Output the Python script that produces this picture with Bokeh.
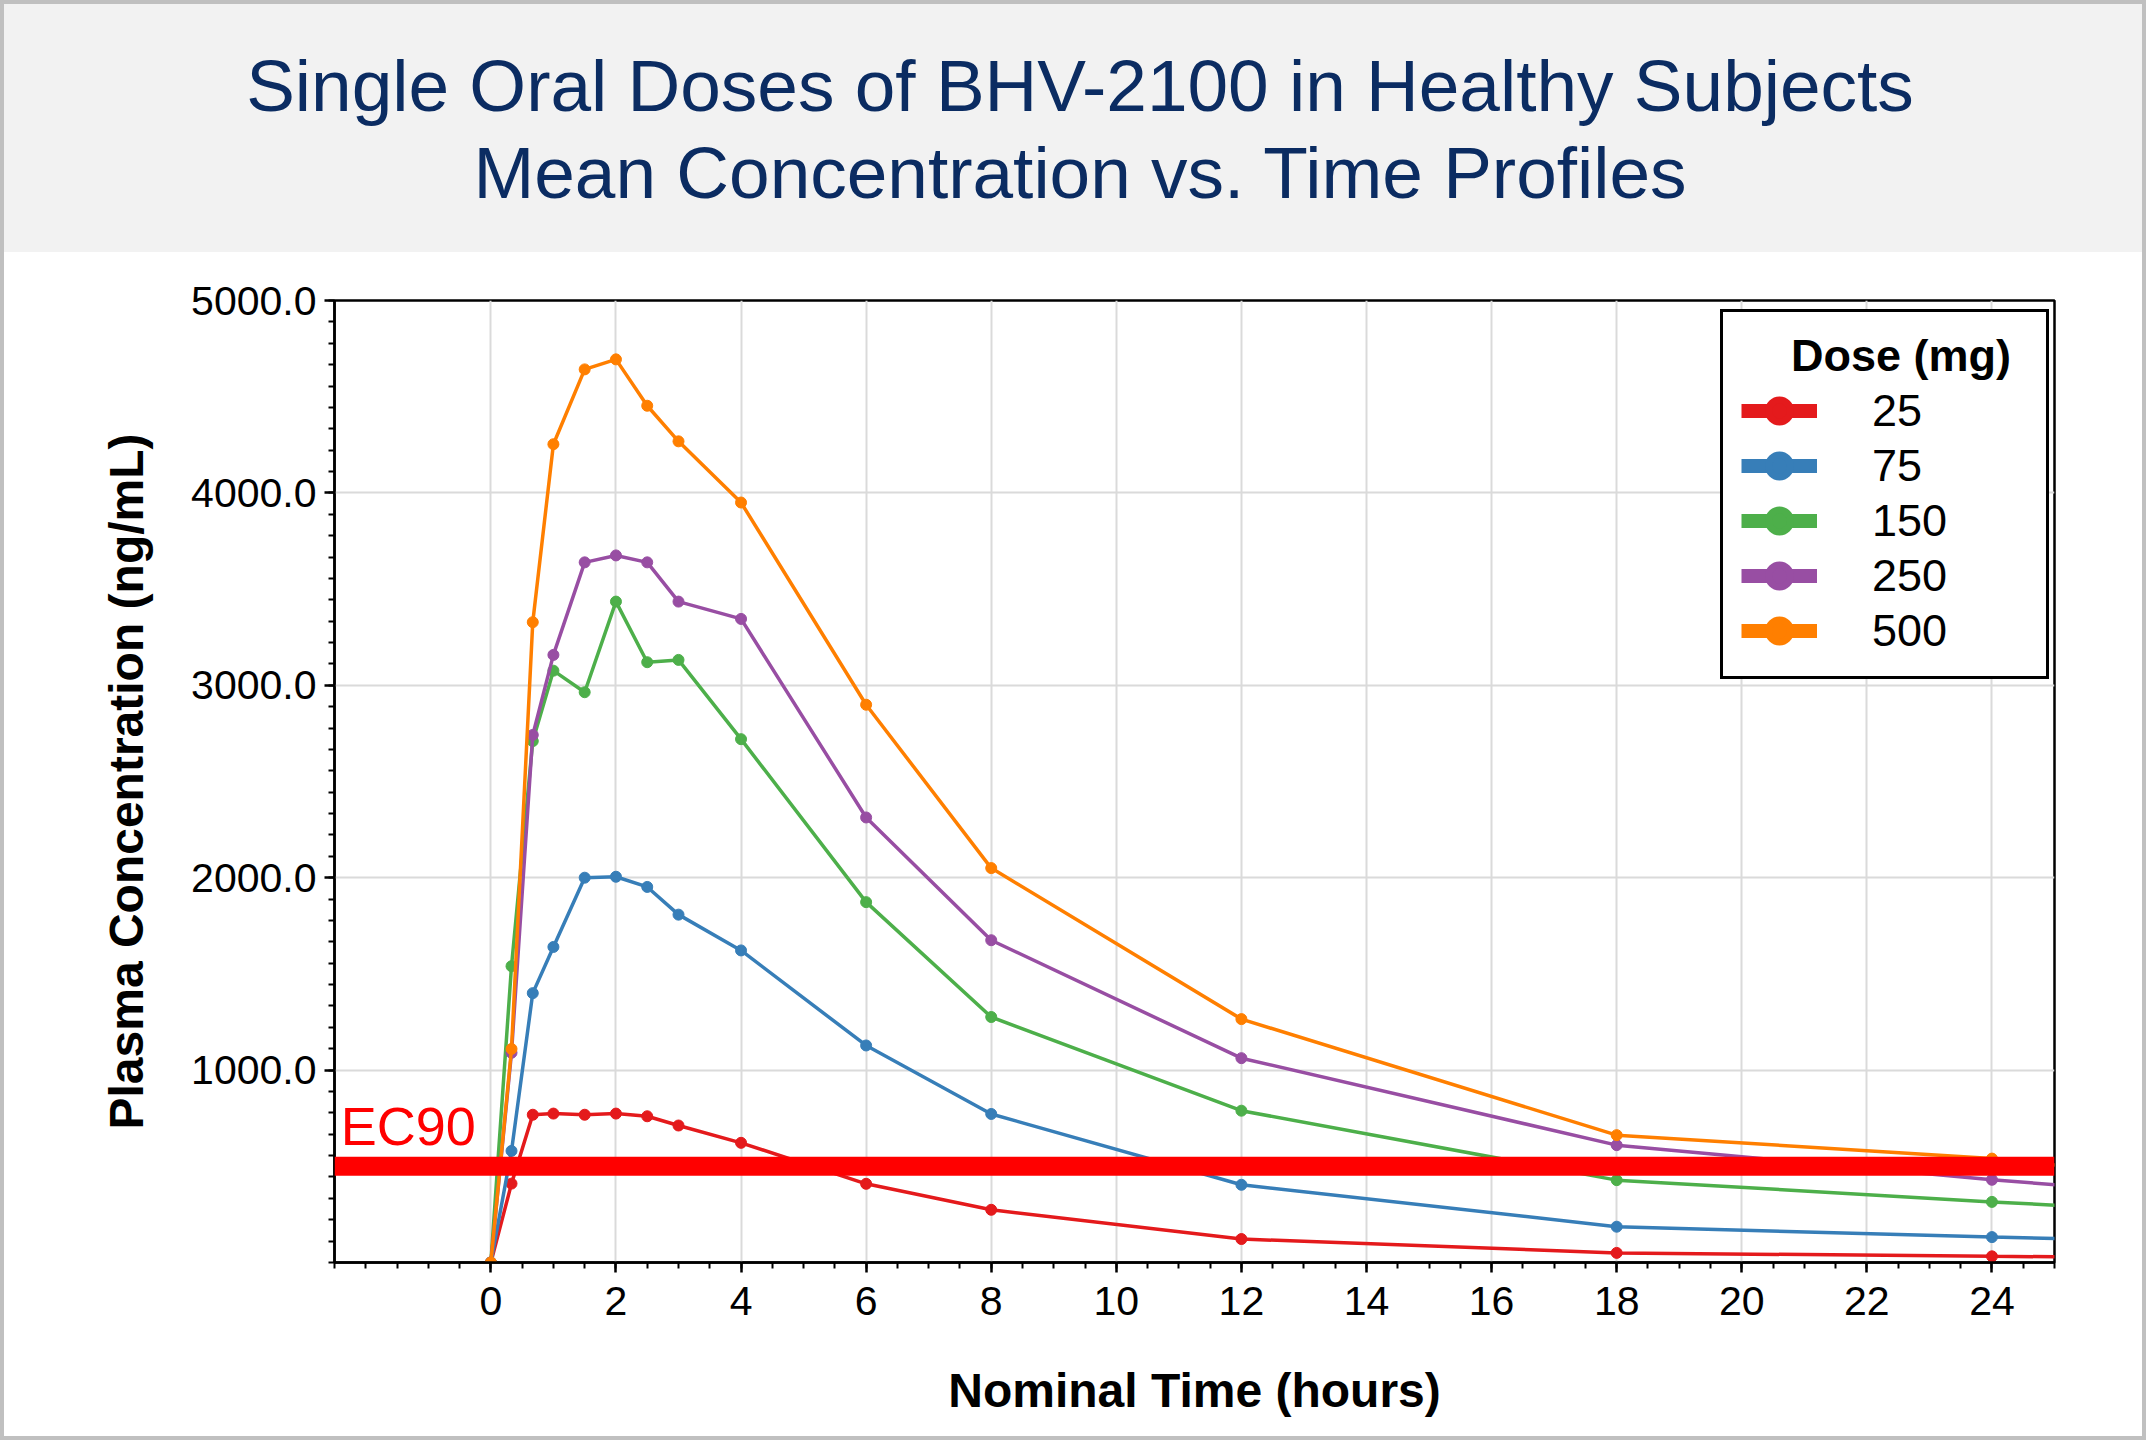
from bokeh.plotting import figure
from bokeh.models import (Range1d, FixedTicker, PrintfTickFormatter, Span, Label,
                          Legend, LegendItem, Div)
from bokeh.layouts import column
from bokeh.embed import file_html
from bokeh.resources import INLINE

# ---------------- data ----------------
time_h = [0, 0.33, 0.67, 1, 1.5, 2, 2.5, 3, 4, 6, 8, 12, 18, 24, 36]
dose_labels = ["25", "75", "150", "250", "500"]
conc_25 = [0, 410, 768, 774, 768, 774, 760, 712, 622, 409, 274, 122, 50, 32, 5]
conc_75 = [0, 580, 1400, 1640, 2000, 2005, 1952, 1808, 1622, 1128, 772, 404, 186, 132, 40]
conc_150 = [0, 1540, 2710, 3076, 2964, 3435, 3120, 3132, 2720, 1873, 1276, 789, 428, 315, 110]
conc_250 = [0, 1090, 2742, 3158, 3639, 3675, 3639, 3435, 3345, 2313, 1675, 1062, 610, 430, 120]
conc_500 = [0, 1110, 3328, 4253, 4642, 4694, 4453, 4268, 3950, 2899, 2050, 1265, 662, 540, 150]
series = [conc_25, conc_75, conc_150, conc_250, conc_500]
colors = ["#E41A1C", "#377EB8", "#4DAF4A", "#984EA3", "#FF7F00"]

ec90_value = 500
x_major_ticks = [0, 2, 4, 6, 8, 10, 12, 14, 16, 18, 20, 22, 24]
y_major_ticks = [1000, 2000, 3000, 4000, 5000]

FONT = "Liberation Sans"
W = 2138
TITLE_H = 248
FIG_H = 1432 - TITLE_H

# ---------------- title band ----------------
title_html = (
    '<div style="width:%dpx;height:%dpx;background:#F2F2F2;box-sizing:border-box;'
    'padding-top:38px;padding-left:14px;text-align:center;'
    'font-family:\'Liberation Sans\',Arial,sans-serif;'
    'font-size:73px;line-height:87px;color:#0B2C62;">'
    'Single Oral Doses of BHV-2100 in Healthy Subjects<br>'
    'Mean Concentration vs. Time Profiles</div>' % (W, TITLE_H)
)
title_div = Div(text=title_html, width=W, height=TITLE_H, margin=0)

# ---------------- figure ----------------
p = figure(width=W, height=FIG_H, output_backend="svg", toolbar_location=None,
           x_range=Range1d(-2.5, 25), y_range=Range1d(0, 5000),
           min_border_left=330, min_border_right=88, min_border_top=48,
           min_border_bottom=FIG_H - 48 - 962, margin=0)
p.background_fill_color = "white"
p.border_fill_color = "white"
p.outline_line_color = "black"
p.outline_line_width = 2.5

p.xaxis.ticker = FixedTicker(ticks=x_major_ticks,
                             minor_ticks=[i * 0.5 - 2.5 for i in range(56)])
p.yaxis.ticker = FixedTicker(ticks=y_major_ticks,
                             minor_ticks=[i * 1000 / 9 for i in range(46)])
p.yaxis.formatter = PrintfTickFormatter(format="%.1f")

for ax in (p.xaxis, p.yaxis):
    ax.axis_line_color = "black"
    ax.axis_line_width = 2.5
    ax.major_tick_line_color = "black"
    ax.minor_tick_line_color = "black"
    ax.major_tick_line_width = 2.5
    ax.minor_tick_line_width = 2
    ax.major_tick_in = 0
    ax.minor_tick_in = 0
    ax.major_tick_out = 10
    ax.minor_tick_out = 6
    ax.major_label_text_font = FONT
    ax.major_label_text_font_size = "41px"
    ax.major_label_text_color = "black"
    ax.axis_label_text_font = FONT
    ax.axis_label_text_font_size = "48px"
    ax.axis_label_text_font_style = "bold"
    ax.axis_label_text_color = "black"

p.xaxis.major_label_standoff = 14
p.xaxis.axis_label_standoff = 46
p.yaxis.major_label_standoff = 8
p.yaxis.axis_label_standoff = 35

p.xaxis.axis_label = "Nominal Time (hours)"
p.yaxis.axis_label = "Plasma Concentration (ng/mL)"

p.xgrid.grid_line_color = "#DADADA"
p.ygrid.grid_line_color = "#DADADA"
p.xgrid.grid_line_width = 2
p.ygrid.grid_line_width = 2

# data lines
for ys, c in zip(series, colors):
    p.line(time_h, ys, line_color=c, line_width=3.5)
    p.scatter(time_h, ys, marker="circle", size=11, fill_color=c, line_color=c)

# EC90 reference line and label
p.add_layout(Span(location=ec90_value, dimension="width", line_color="#FF0000",
                  line_width=19))
p.add_layout(Label(x=-2.4, y=712, text="EC90", text_color="#FF0000",
                   text_font=FONT, text_font_size="54px",
                   text_baseline="middle", text_align="left"))

# legend (thick proxy glyphs like the reference, placed outside the view)
items = []
for lab, c in zip(dose_labels, colors):
    lr = p.line([-100, -99], [-100, -100], line_color=c, line_width=14)
    sr = p.scatter([-100], [-100], marker="circle", size=22, fill_color=c,
                   line_color=c, line_width=7)
    items.append(LegendItem(label=lab, renderers=[lr, sr]))

legend = Legend(items=items, location=(1386, 583),
                title="\u00a0\u00a0\u00a0\u00a0Dose (mg)",
                title_text_font=FONT, title_text_font_size="45px",
                title_text_font_style="bold", title_text_color="black",
                title_standoff=1,
                label_text_font=FONT, label_text_font_size="45px",
                label_text_color="black",
                glyph_width=76, glyph_height=55, label_height=49,
                label_width=156, label_standoff=55, spacing=0, padding=18,
                margin=0, border_line_color="black", border_line_width=3,
                border_line_alpha=1.0,
                background_fill_color="white", background_fill_alpha=1.0)
p.add_layout(legend)

layout = column(title_div, p, spacing=0,
                styles={"border": "4px solid #C0C0C0"})

open("out.html", "w").write(file_html(layout, INLINE))
